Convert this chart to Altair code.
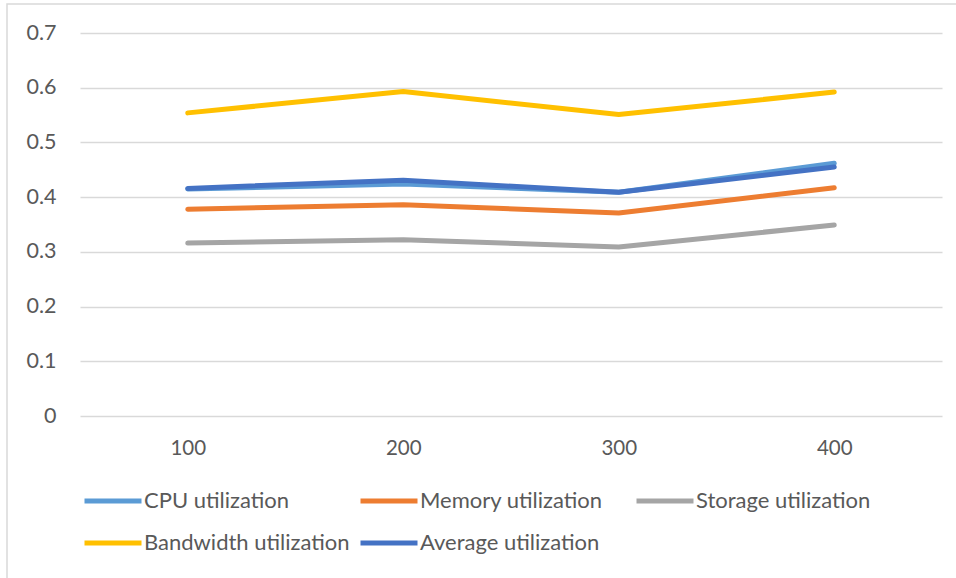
import altair as alt
import pandas as pd

x_labels = [100, 200, 300, 400]
series_names = ["CPU utilization", "Memory utilization", "Storage utilization",
                "Bandwidth utilization", "Average utilization"]
cpu = [0.415, 0.424, 0.409, 0.462]
memory = [0.378, 0.386, 0.371, 0.417]
storage = [0.316, 0.322, 0.309, 0.349]
bandwidth = [0.554, 0.593, 0.551, 0.592]
average = [0.416, 0.431, 0.409, 0.455]
colors = ["#5B9BD5", "#ED7D31", "#A5A5A5", "#FFC000", "#4472C4"]

rows = []
for i, (name, vals) in enumerate(zip(series_names, [cpu, memory, storage, bandwidth, average])):
    for xv, v in zip(x_labels, vals):
        rows.append({"x": str(xv), "value": v, "series": name, "ord": i})
df = pd.DataFrame(rows)

FONT = "Lato"
TXT = "#595959"

lines = alt.Chart(df).mark_line(strokeWidth=5, strokeCap="round", strokeJoin="round").encode(
    x=alt.X("x:N", sort=[str(v) for v in x_labels], title=None,
            scale=alt.Scale(type="point", padding=0.5),
            axis=alt.Axis(labelAngle=0, ticks=False, domain=False, grid=False,
                          labelPadding=22, labelFontSize=20.5, labelColor=TXT, labelFont=FONT)),
    y=alt.Y("value:Q", title=None,
            scale=alt.Scale(domain=[0, 0.7], nice=False),
            axis=alt.Axis(values=[0, 0.1, 0.2, 0.3, 0.4, 0.5, 0.6, 0.7], format="~g",
                          ticks=False, domain=False, gridColor="#D9D9D9", gridWidth=1.3,
                          labelPadding=24, labelFontSize=21.5, labelColor=TXT, labelFont=FONT)),
    color=alt.Color("series:N", sort=series_names,
                    scale=alt.Scale(domain=series_names, range=colors),
                    legend=alt.Legend(orient="none", legendX=2, legendY=437, direction="horizontal",
                                      columns=3, title=None, symbolType="stroke",
                                      symbolSize=3249, symbolStrokeWidth=5,
                                      labelFontSize=22, labelColor=TXT, labelFont=FONT,
                                      labelLimit=0, labelOffset=0, gridAlign="all",
                                      columnPadding=0, rowPadding=-7)),
    order=alt.Order("ord:Q"),
    detail="series:N",
)

frame = alt.Chart(pd.DataFrame({"a": [0]})).mark_rect(
    fill=None, stroke="#D9D9D9", strokeWidth=1.5
).encode(x=alt.value(-73), x2=alt.value(900), y=alt.value(-29), y2=alt.value(560))

chart = alt.layer(frame, lines).properties(
    width=862, height=383,
    autosize=alt.AutoSizeParams(type="none"),
    padding={"left": 80, "top": 33, "right": 14, "bottom": 162},
).configure(background="white", view=alt.ViewConfig(stroke=None))

chart.save("out.html", embed_options={"renderer": "svg", "actions": False})
